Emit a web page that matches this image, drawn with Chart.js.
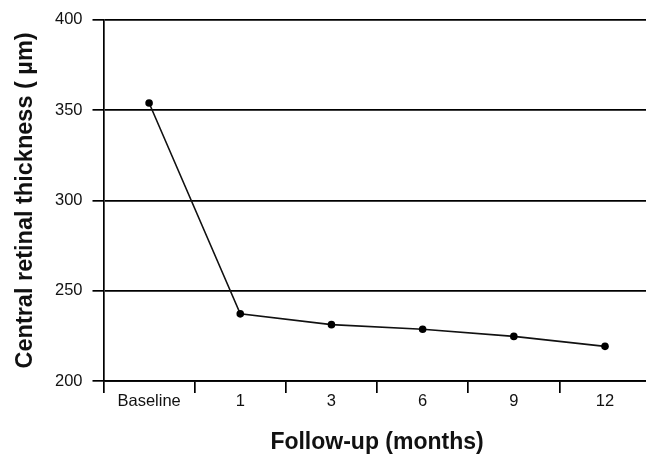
<!DOCTYPE html>
<html>
<head>
<meta charset="utf-8">
<script src="https://cdn.jsdelivr.net/npm/chart.js@4"></script>
<style>
  html, body { margin: 0; padding: 0; background: #fff; overflow: hidden; }
  #wrap { width: 646px; height: 454px; overflow: hidden; }
  canvas { display: block; }
</style>
</head>
<body>
<div id="wrap">
  <canvas id="crtChart" width="660" height="454"></canvas>
</div>
<script>
const categories = ["Baseline", "1", "3", "6", "9", "12"];
const thickness = [354, 237.2, 231.2, 228.7, 224.7, 219.2];
const yTicks = [200, 250, 300, 350, 400];

const ink = "#000";

const ctx = document.getElementById("crtChart").getContext("2d");
new Chart(ctx, {
    type: "line",
    data: {
        labels: categories,
        datasets: [{
            label: "Central retinal thickness",
            data: thickness,
            borderColor: "#111",
            borderWidth: 1.6,
            backgroundColor: ink,
            pointRadius: 3.8,
            pointBackgroundColor: ink,
            pointBorderWidth: 0,
            tension: 0,
            fill: false
        }]
    },
    options: {
        responsive: false,
        animation: false,
        devicePixelRatio: 1,
        layout: { padding: { top: 17, right: 9.4, left: 0, bottom: 0 } },
        plugins: {
            legend: { display: false },
            tooltip: { enabled: false }
        },
        scales: {
            x: {
                offset: true,
                grid: {
                    offset: true,
                    drawOnChartArea: false,
                    drawTicks: true,
                    tickLength: 12,
                    color: ink,
                    lineWidth: 1.7
                },
                border: { display: true, color: ink, width: 1.7 },
                ticks: {
                    color: "#111",
                    padding: 0,
                    maxRotation: 0,
                    autoSkip: false,
                    font: { family: "Liberation Sans, Arial, sans-serif", size: 16.5, lineHeight: 1 }
                },
                title: {
                    display: true,
                    text: "Follow-up (months)",
                    color: "#111",
                    padding: { top: 0, bottom: 0 },
                    font: { family: "Liberation Sans, Arial, sans-serif", size: 23, weight: "bold", lineHeight: 1 }
                },
                afterFit: function (scale) { scale.height = 73; }
            },
            y: {
                min: 200,
                max: 400,
                afterBuildTicks: function (scale) {
                    scale.ticks = yTicks.map(v => ({ value: v }));
                },
                grid: {
                    drawTicks: true,
                    tickLength: 11,
                    color: ink,
                    lineWidth: 1.7
                },
                border: { display: true, color: ink, width: 1.7 },
                ticks: {
                    color: "#111",
                    padding: 10,
                    font: { family: "Liberation Sans, Arial, sans-serif", size: 16.5 }
                },
                title: {
                    display: true,
                    text: "Central retinal thickness ( µm)",
                    color: "#111",
                    padding: { top: 13.5, bottom: 0 },
                    font: { family: "Liberation Sans, Arial, sans-serif", size: 23.5, weight: "bold", lineHeight: 1 }
                },
                afterFit: function (scale) { scale.width = 103.5; }
            }
        }
    }
});
</script>
</body>
</html>
